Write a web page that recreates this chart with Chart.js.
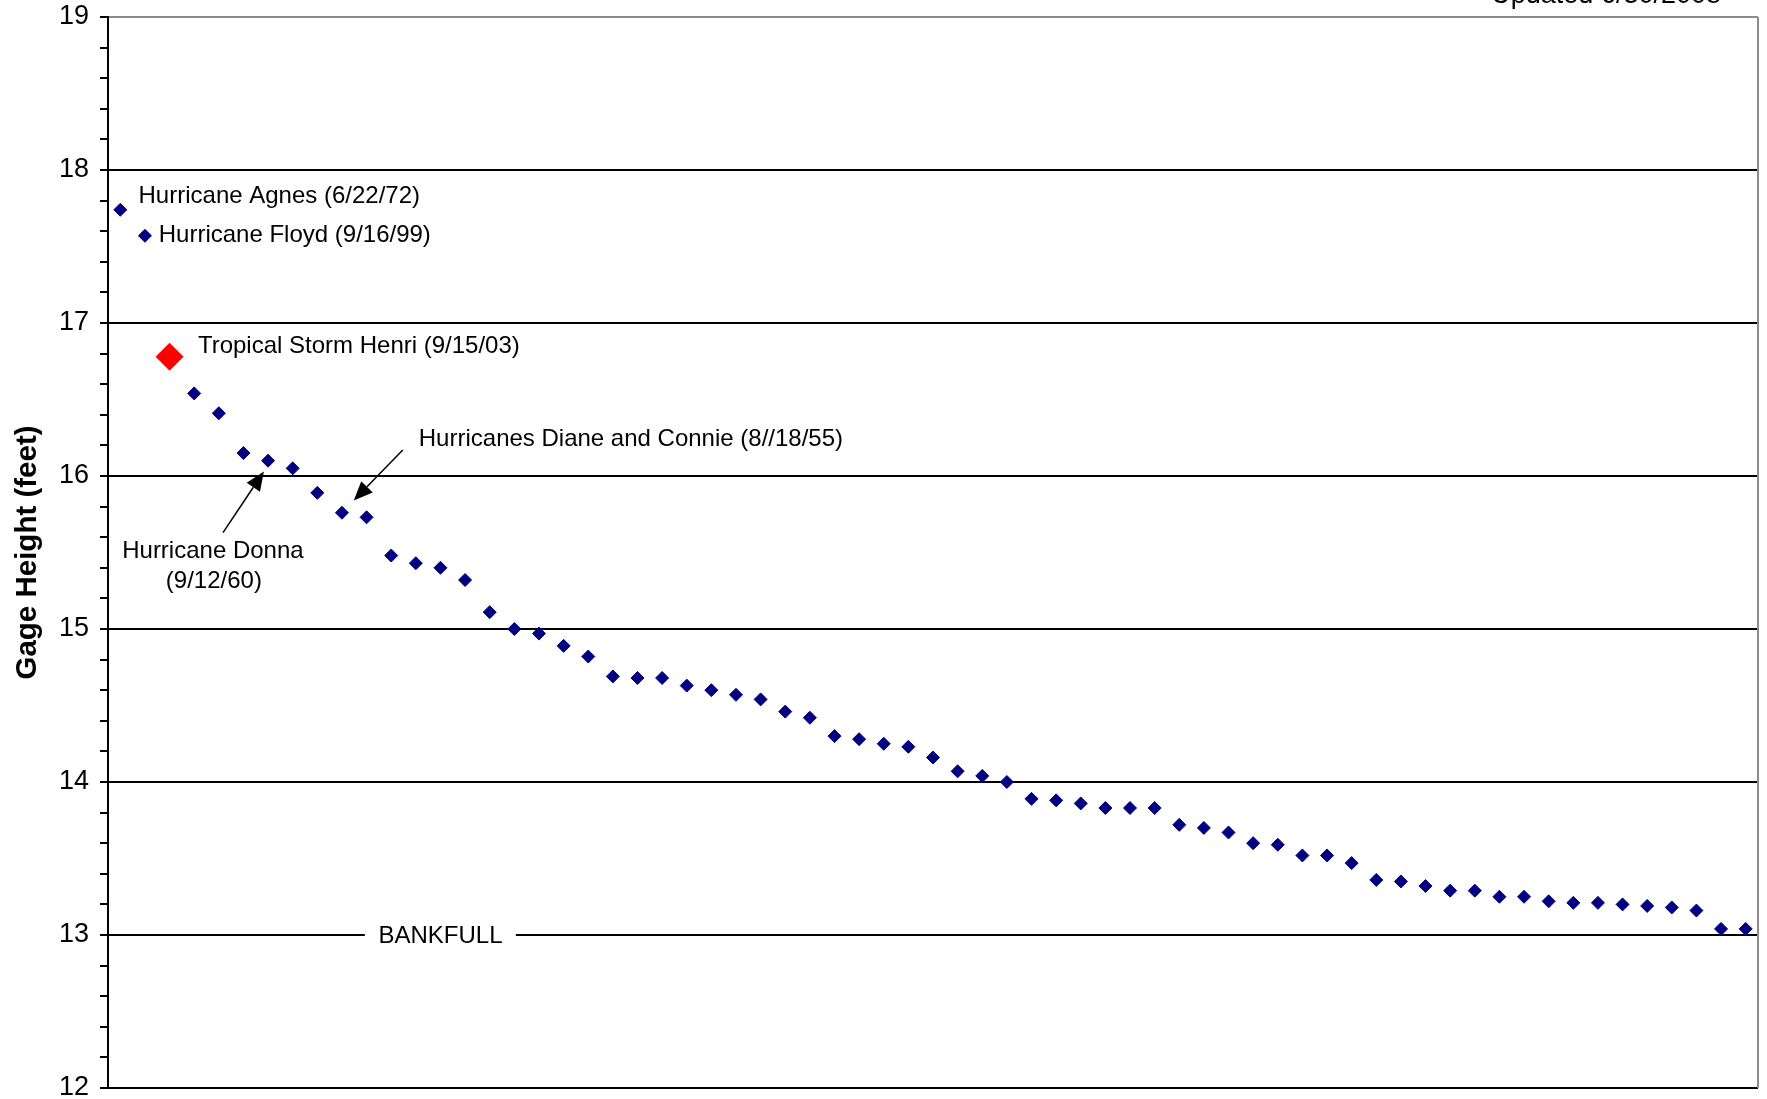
<!DOCTYPE html>
<html>
<head>
<meta charset="utf-8">
<script src="https://cdn.jsdelivr.net/npm/chart.js@4/dist/chart.umd.min.js"></script>
<style>
  html, body { margin: 0; padding: 0; background: #fff; }
  #c { display: block; }
</style>
</head>
<body>
<canvas id="c" width="1767" height="1099"></canvas>
<script>
// ---- Data ----
const ranks = [
  1, 2, 3, 4, 5, 6, 7, 8, 9, 10, 11, 12, 13, 14, 15, 16, 17, 18, 19, 20,
  21, 22, 23, 24, 25, 26, 27, 28, 29, 30, 31, 32, 33, 34, 35, 36, 37, 38, 39, 40,
  41, 42, 43, 44, 45, 46, 47, 48, 49, 50, 51, 52, 53, 54, 55, 56, 57, 58, 59, 60,
  61, 62, 63, 64, 65, 66, 67
];
const gageHeights = [
  17.74, 17.57, 16.78, 16.54, 16.41, 16.15, 16.10, 16.05, 15.89, 15.76,
  15.73, 15.48, 15.43, 15.40, 15.32, 15.11, 15.00, 14.97, 14.89, 14.82,
  14.69, 14.68, 14.68, 14.63, 14.60, 14.57, 14.54, 14.46, 14.42, 14.30,
  14.28, 14.25, 14.23, 14.16, 14.07, 14.04, 14.00, 13.89, 13.88, 13.86,
  13.83, 13.83, 13.83, 13.72, 13.70, 13.67, 13.60, 13.59, 13.52, 13.52,
  13.47, 13.36, 13.35, 13.32, 13.29, 13.29, 13.25, 13.25, 13.22, 13.21,
  13.21, 13.20, 13.19, 13.18, 13.16, 13.04, 13.04
];
const highlightRank = 3;            // Tropical Storm Henri
const yTickMin = 12;
const yTickMax = 19;
const bankfullLevel = 13;
const yAxisTitle = 'Gage Height (feet)';
const updatedText = 'Updated 6/30/2008';

// Event labels, anchored in data units (x = rank, y = gage height)
const eventLabels = [
  { text: 'Hurricane Agnes (6/22/72)', x: 1.74, y: 17.83, align: 'left' },
  { text: 'Hurricane Floyd (9/16/99)', x: 2.56, y: 17.57, align: 'left' },
  { text: 'Tropical Storm Henri (9/15/03)', x: 4.15, y: 16.85, align: 'left' },
  { text: 'Hurricanes Diane and Connie (8//18/55)', x: 13.12, y: 16.24, align: 'left' },
  { text: 'Hurricane Donna', x: 4.76, y: 15.51, align: 'center' },
  { text: '(9/12/60)', x: 4.80, y: 15.31, align: 'center' }
];
const eventArrows = [
  { fromX: 5.17, fromY: 15.63, toX: 6.83, toY: 16.03 },
  { fromX: 12.47, fromY: 16.17, toX: 10.48, toY: 15.84 }
];
const bankfullLabel = { text: 'BANKFULL', x: 14.0, gapFrom: 10.93, gapTo: 17.06 };

// ---- Styles ----
const FONT = '"Liberation Sans", Arial, sans-serif';
const NAVY = '#000080';
const RED = '#ff0000';

const isMajor = v => Math.abs(v - Math.round(v)) < 1e-6;

const annotationPlugin = {
  id: 'annotations',
  afterDraw(chart) {
    const { ctx, chartArea } = chart;
    const xs = chart.scales.x, ys = chart.scales.y;
    ctx.save();

    // right border of plot area (gray)
    ctx.strokeStyle = '#8c8c8c';
    ctx.lineWidth = 2;
    ctx.beginPath();
    ctx.moveTo(chartArea.right, chartArea.top);
    ctx.lineTo(chartArea.right, chartArea.bottom);
    ctx.stroke();

    // BANKFULL label with gap in the line
    const by = ys.getPixelForValue(bankfullLevel);
    const g1 = xs.getPixelForValue(bankfullLabel.gapFrom);
    const g2 = xs.getPixelForValue(bankfullLabel.gapTo);
    ctx.fillStyle = '#ffffff';
    ctx.fillRect(g1, by - 3, g2 - g1, 6);
    ctx.fillStyle = '#000';
    ctx.font = '24px ' + FONT;
    ctx.textAlign = 'center';
    ctx.textBaseline = 'middle';
    ctx.fillText(bankfullLabel.text, xs.getPixelForValue(bankfullLabel.x), by + 1);

    // event labels
    eventLabels.forEach(l => {
      ctx.textAlign = l.align;
      ctx.fillText(l.text, xs.getPixelForValue(l.x), ys.getPixelForValue(l.y));
    });

    // arrows
    ctx.strokeStyle = '#000';
    ctx.lineWidth = 1.5;
    eventArrows.forEach(a => {
      const x1 = xs.getPixelForValue(a.fromX), y1 = ys.getPixelForValue(a.fromY);
      const x2 = xs.getPixelForValue(a.toX), y2 = ys.getPixelForValue(a.toY);
      const ang = Math.atan2(y2 - y1, x2 - x1);
      const len = 19, hw = 8;
      const bx = x2 - len * Math.cos(ang), bypx = y2 - len * Math.sin(ang);
      ctx.beginPath();
      ctx.moveTo(x1, y1);
      ctx.lineTo(bx, bypx);
      ctx.stroke();
      ctx.beginPath();
      ctx.moveTo(x2, y2);
      ctx.lineTo(bx + hw * Math.sin(ang), bypx - hw * Math.cos(ang));
      ctx.lineTo(bx - hw * Math.sin(ang), bypx + hw * Math.cos(ang));
      ctx.closePath();
      ctx.fillStyle = '#000';
      ctx.fill();
    });

    // "Updated" note, mostly cut off at the top
    ctx.fillStyle = '#000';
    ctx.textAlign = 'right';
    ctx.textBaseline = 'alphabetic';
    ctx.font = '27px ' + FONT;
    ctx.fillText(updatedText, chartArea.right - 37, 3);

    ctx.restore();
  }
};

new Chart(document.getElementById('c'), {
  type: 'scatter',
  data: {
    datasets: [{
      label: 'Gage Height',
      data: ranks.map((r, i) => ({ x: r, y: gageHeights[i] })),
      showLine: false,
      clip: false,
      pointStyle: 'rectRot',
      pointRadius: ctx => (ranks[ctx.dataIndex] === highlightRank ? 13.5 : 6.5),
      pointHoverRadius: ctx => (ranks[ctx.dataIndex] === highlightRank ? 13.5 : 6.5),
      pointBackgroundColor: ctx => (ranks[ctx.dataIndex] === highlightRank ? RED : NAVY),
      pointBorderColor: ctx => (ranks[ctx.dataIndex] === highlightRank ? RED : NAVY),
      pointBorderWidth: 1
    }]
  },
  options: {
    responsive: false,
    animation: false,
    devicePixelRatio: 1,
    layout: { autoPadding: false, padding: { top: 17, right: 9, bottom: 11, left: 0 } },
    plugins: {
      legend: { display: false },
      tooltip: { enabled: false },
      title: { display: false }
    },
    scales: {
      x: {
        type: 'linear',
        min: ranks[0] - 0.5,
        max: ranks[ranks.length - 1] + 0.5,
        display: false
      },
      y: {
        type: 'linear',
        min: yTickMin,
        max: yTickMax,
        afterFit(scale) {
          scale.width = 108;
          scale.paddingTop = 0;
          scale.paddingBottom = 0;
        },
        ticks: {
          stepSize: 0.2,
          maxTicksLimit: 100,
          autoSkip: false,
          padding: 11,
          color: '#000',
          font: { family: FONT, size: 27 },
          callback: v => (isMajor(v) ? String(Math.round(v)) : '')
        },
        grid: {
          drawOnChartArea: true,
          color: ctx => {
            const v = ctx.tick ? ctx.tick.value : 0;
            if (!isMajor(v)) return 'rgba(0,0,0,0)';
            return Math.round(v) === yTickMax ? '#8c8c8c' : '#000';
          },
          lineWidth: 2,
          tickColor: '#000',
          tickWidth: 2,
          tickLength: 8
        },
        border: { display: true, color: '#000', width: 2 },
        title: {
          display: true,
          text: yAxisTitle,
          color: '#000',
          font: { family: FONT, size: 29.5, weight: 'bold' },
          padding: { top: 10, bottom: 0 }
        }
      }
    }
  },
  plugins: [annotationPlugin]
});
</script>
</body>
</html>
